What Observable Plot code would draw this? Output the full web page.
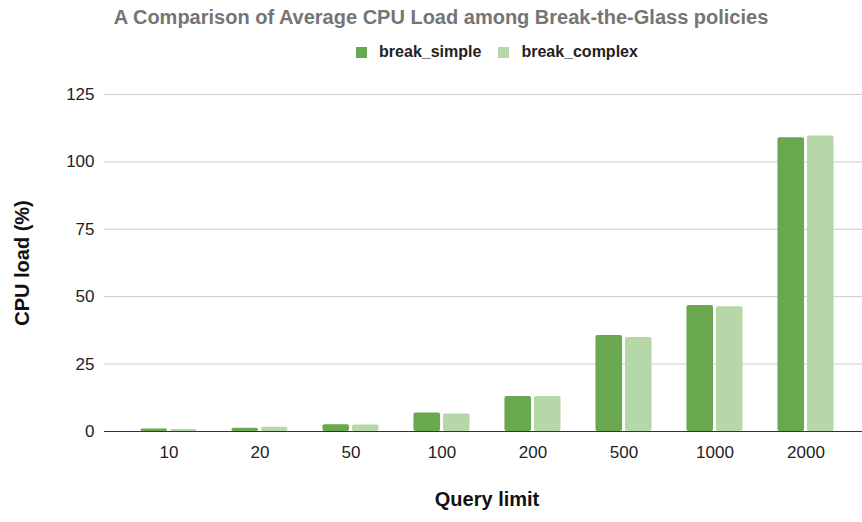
<!DOCTYPE html>
<html>
<head>
<meta charset="utf-8">
<script src="https://cdn.jsdelivr.net/npm/d3@7"></script>
<script src="https://cdn.jsdelivr.net/npm/@observablehq/plot@0.6"></script>
<style>
  body { margin: 0; background: #fff; font-family: Arial, "Liberation Sans", sans-serif; }
  #wrap { width: 862px; }
  #title { height: 34px; line-height: 34px; text-align: center; font-weight: bold; font-size: 20px; color: #757575; padding-left: 20px; box-sizing: border-box; white-space: nowrap; }
  #legend { height: 36px; display: flex; justify-content: center; align-items: center; gap: 17px; font-size: 16px; font-weight: bold; color: #222; padding-left: 132px; box-sizing: border-box; }
  .item { display: flex; align-items: center; gap: 12px; }
  .sw { width: 11px; height: 11px; display: inline-block; }
</style>
</head>
<body>
<div id="wrap">
  <div id="title">A Comparison of Average CPU Load among Break-the-Glass policies</div>
  <div id="legend"></div>
  <div id="chart"></div>
</div>
<script>
const categories = ["10", "20", "50", "100", "200", "500", "1000", "2000"];
const seriesNames = ["break_simple", "break_complex"];
const simpleValues = [0.9, 1.2, 2.5, 6.9, 13.0, 35.6, 46.7, 109.0];
const complexValues = [0.7, 1.6, 2.4, 6.5, 13.0, 34.9, 46.3, 109.6];
const yTicks = [0, 25, 50, 75, 100, 125];
const colors = ["#6aa84f", "#b6d7a8"];

const simpleData = categories.map((c, i) => ({category: c, series: seriesNames[0], value: simpleValues[i]}));
const complexData = categories.map((c, i) => ({category: c, series: seriesNames[1], value: complexValues[i]}));

const legend = document.getElementById("legend");
seriesNames.forEach((s, i) => {
  const it = document.createElement("span");
  it.className = "item";
  it.innerHTML = `<span class="sw" style="background:${colors[i]}"></span><span>${s}</span>`;
  legend.appendChild(it);
});

const W = 862, marginLeft = 119, marginRight = 8;
const step = (W - marginLeft - marginRight) / categories.length;
const half = step / 2;
const barW = 27.5, gap = 1;

const chart = Plot.plot({
  width: W,
  height: 452,
  marginLeft,
  marginRight,
  marginTop: 24,
  marginBottom: 91,
  style: {fontFamily: "Arial, 'Liberation Sans', sans-serif", fontSize: "17px", color: "#222", background: "#fff"},
  x: {domain: categories, padding: 0},
  y: {domain: [0, 125]},
  marks: [
    Plot.ruleY(yTicks.filter(d => d > 0), {y: d => d, stroke: "#cccccc", strokeWidth: 1, insetLeft: -15, insetRight: -8}),
    Plot.barY(simpleData, {x: "category", y: "value", fill: colors[0], rx: 2,
      insetLeft: half - barW - gap, insetRight: half + gap}),
    Plot.barY(complexData, {x: "category", y: "value", fill: colors[1], rx: 2,
      insetLeft: half + gap, insetRight: half - barW - gap}),
    Plot.ruleY([0], {stroke: "#333", strokeWidth: 1, insetLeft: -15, insetRight: -8}),
    Plot.axisY({ticks: yTicks, tickSize: 0, tickPadding: 25, label: null, fill: "#222"}),
    Plot.axisX({tickSize: 0, tickPadding: 14, label: null, fill: "#222"}),
    Plot.text(["CPU load (%)"], {frameAnchor: "left", textAnchor: "middle", rotate: -90, dx: -97, fontWeight: "bold", fontSize: 20, fill: "#111"}),
    Plot.text(["Query limit"], {frameAnchor: "bottom", textAnchor: "middle", dy: 74, fontWeight: "bold", fontSize: 20, fill: "#111"})
  ]
});
document.getElementById("chart").appendChild(chart);
</script>
</body>
</html>
